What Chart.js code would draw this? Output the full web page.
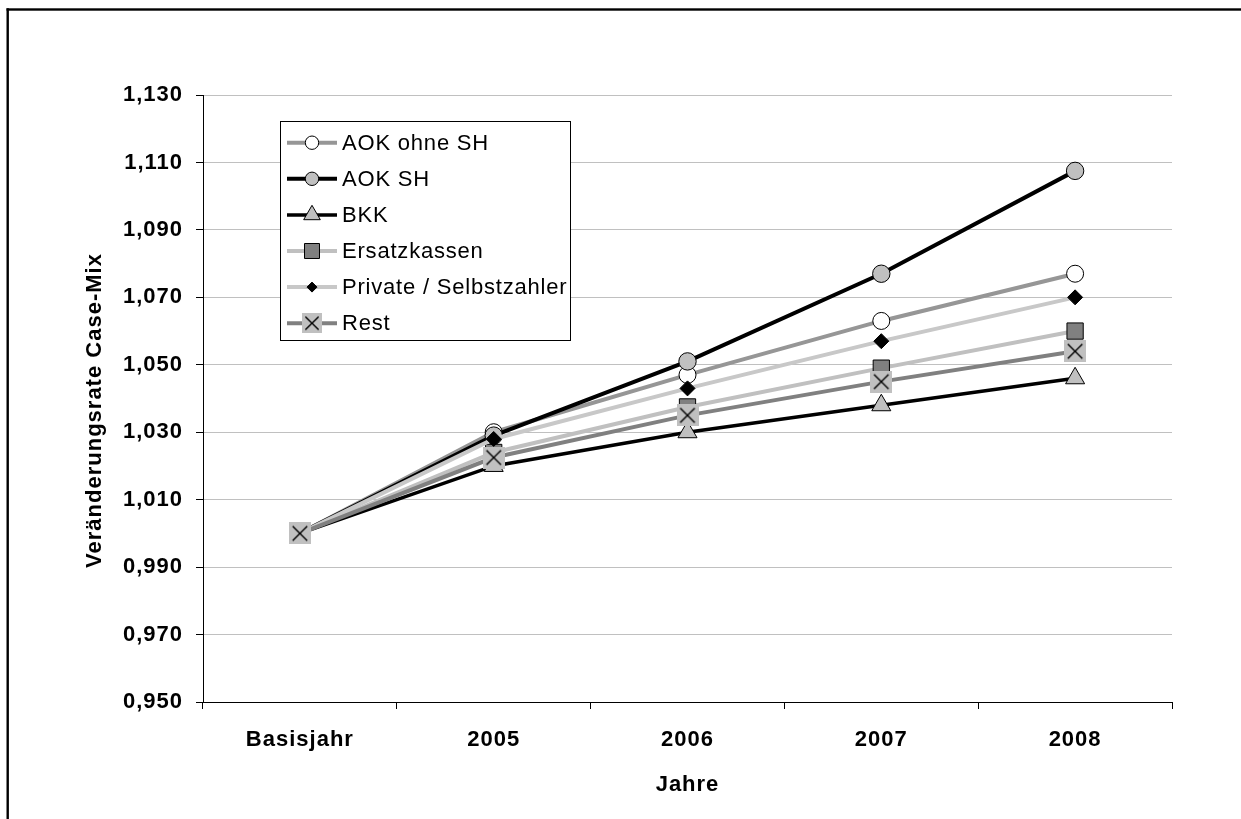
<!DOCTYPE html>
<html>
<head>
<meta charset="utf-8">
<script src="https://cdn.jsdelivr.net/npm/chart.js@4/dist/chart.umd.min.js"></script>
<style>
html,body{margin:0;padding:0;background:#fff;overflow:hidden}
canvas{display:block}
</style>
</head>
<body>
<canvas id="c" width="1241" height="819"></canvas>
<script>
// ---- data ----
const categories = ['Basisjahr', '2005', '2006', '2007', '2008'];
const seriesNames = ['AOK ohne SH', 'AOK SH', 'BKK', 'Ersatzkassen', 'Private / Selbstzahler', 'Rest'];
const aokOhneSH     = [1.000, 1.030, 1.047, 1.063, 1.077];
const aokSH         = [1.000, 1.029, 1.051, 1.077, 1.1075];
const bkk           = [1.000, 1.020, 1.030, 1.038, 1.046];
const ersatzkassen  = [1.000, 1.024, 1.0375, 1.049, 1.060];
const privateSelbst = [1.000, 1.028, 1.043, 1.057, 1.070];
const rest          = [1.000, 1.0225, 1.035, 1.045, 1.054];
const yTickValues = [0.95, 0.97, 0.99, 1.01, 1.03, 1.05, 1.07, 1.09, 1.11, 1.13];
const yTickLabels = ['0,950', '0,970', '0,990', '1,010', '1,030', '1,050', '1,070', '1,090', '1,110', '1,130'];
const xTitle = 'Jahre';
const yTitle = 'Veränderungsrate Case-Mix';

// ---- styling ----
const FONT = "'Liberation Sans', Arial, Helvetica, sans-serif";

function makeRestMarker(size) {
  const c = document.createElement('canvas');
  c.width = size; c.height = size;
  const g = c.getContext('2d');
  g.fillStyle = '#c0c0c0';
  g.fillRect(0, 0, size, size);
  g.strokeStyle = '#000';
  g.lineWidth = 1.4;
  const p = size * 0.17;
  g.beginPath();
  g.moveTo(p, p); g.lineTo(size - p, size - p);
  g.moveTo(size - p, p); g.lineTo(p, size - p);
  g.stroke();
  return c;
}
const restMarker = makeRestMarker(22);
const restMarkerLegend = makeRestMarker(20);

const seriesData = [aokOhneSH, aokSH, bkk, ersatzkassen, privateSelbst, rest];
const lineColors = ['#969696', '#000000', '#000000', '#c0c0c0', '#c8c8c8', '#808080'];
const lineWidths = [4, 4, 3.5, 4, 4, 4];
const pointStyles = ['circle', 'circle', 'triangle', 'rect', 'rectRot', restMarker];
const pointRadii = [8.5, 8.7, 11, 11.5, 7.5, 11];
const pointFills = ['#ffffff', '#c0c0c0', '#c0c0c0', '#808080', '#000000', '#c0c0c0'];
const legendRadii = [6.7, 6.7, 9.6, 10.6, 5, 10];

const datasets = seriesNames.map((name, i) => ({
  label: name,
  data: seriesData[i],
  borderColor: lineColors[i],
  borderWidth: lineWidths[i],
  pointStyle: pointStyles[i],
  pointRadius: pointRadii[i],
  pointHoverRadius: pointRadii[i],
  pointBackgroundColor: pointFills[i],
  pointBorderColor: '#000',
  pointBorderWidth: 1,
  fill: false,
  tension: 0,
  order: seriesNames.length - 1 - i
}));

function drawMarker(ctx, style, r, x, y, fill) {
  ctx.save();
  ctx.fillStyle = fill;
  ctx.strokeStyle = '#000';
  ctx.lineWidth = 1;
  if (typeof style === 'object') {
    ctx.drawImage(style, x - style.width / 2, y - style.height / 2);
    ctx.restore();
    return;
  }
  ctx.beginPath();
  if (style === 'circle') {
    ctx.arc(x, y, r, 0, Math.PI * 2);
  } else if (style === 'triangle') {
    ctx.moveTo(x, y - r);
    ctx.lineTo(x + r * Math.sin(2 * Math.PI / 3), y - r * Math.cos(2 * Math.PI / 3));
    ctx.lineTo(x + r * Math.sin(4 * Math.PI / 3), y - r * Math.cos(4 * Math.PI / 3));
  } else if (style === 'rect') {
    const s = r * Math.SQRT1_2;
    ctx.rect(x - s, y - s, 2 * s, 2 * s);
  } else if (style === 'rectRot') {
    ctx.moveTo(x - r, y); ctx.lineTo(x, y - r); ctx.lineTo(x + r, y); ctx.lineTo(x, y + r);
  }
  ctx.closePath();
  ctx.fill();
  ctx.stroke();
  ctx.restore();
}

const framePlugin = {
  id: 'frame',
  beforeLayout(chart) { chart.ctx.letterSpacing = '1px'; },
  beforeDraw(chart) {
    const ctx = chart.ctx;
    ctx.letterSpacing = '1px';
    ctx.save();
    ctx.fillStyle = '#000';
    ctx.fillRect(6.5, 8.3, chart.width, 2.4);
    ctx.fillRect(6.5, 8.3, 2.4, chart.height);
    ctx.restore();
  },
  afterDraw(chart) {
    // y-axis title, centred slightly below the plot centre as in the original
    const ctx = chart.ctx;
    const area = chart.chartArea;
    ctx.save();
    ctx.translate(95, (area.top + area.bottom) / 2 + 12);
    ctx.rotate(-Math.PI / 2);
    ctx.fillStyle = '#000';
    ctx.font = 'bold 22px ' + FONT;
    ctx.letterSpacing = '1px';
    ctx.textAlign = 'center';
    ctx.textBaseline = 'middle';
    ctx.fillText(yTitle, 0, 0);
    ctx.restore();
  }
};

const boxLegendPlugin = {
  id: 'boxLegend',
  afterDatasetsDraw(chart) {
    const ctx = chart.ctx;
    const area = chart.chartArea;
    const bx = area.left + 77.5, by = area.top + 26.5;
    const bw = 290, bh = 219;
    ctx.save();
    ctx.fillStyle = '#fff';
    ctx.fillRect(bx, by, bw, bh);
    ctx.strokeStyle = '#000';
    ctx.lineWidth = 1;
    ctx.strokeRect(bx, by, bw, bh);
    const rowStart = by + 21.2, rowStep = 36.1;
    chart.data.datasets.forEach((ds, i) => {
      const y = rowStart + i * rowStep;
      const x0 = bx + 6.5, x1 = x0 + 50;
      ctx.strokeStyle = ds.borderColor;
      ctx.lineWidth = ds.borderWidth;
      ctx.beginPath();
      ctx.moveTo(x0, y); ctx.lineTo(x1, y);
      ctx.stroke();
      const st = (typeof ds.pointStyle === 'object') ? restMarkerLegend : ds.pointStyle;
      drawMarker(ctx, st, legendRadii[i], (x0 + x1) / 2, y, ds.pointBackgroundColor);
      ctx.fillStyle = '#000';
      ctx.font = '22px ' + FONT;
      ctx.letterSpacing = '0.8px';
      ctx.textAlign = 'left';
      ctx.textBaseline = 'middle';
      ctx.fillText(ds.label, x1 + 5, y + 1);
    });
    ctx.restore();
  }
};

new Chart(document.getElementById('c'), {
  type: 'line',
  data: { labels: categories, datasets: datasets },
  options: {
    responsive: false,
    animation: false,
    devicePixelRatio: 1,
    layout: { padding: { top: 95, right: 69, left: 0, bottom: 0 } },
    plugins: { legend: { display: false }, tooltip: { enabled: false } },
    scales: {
      x: {
        type: 'category',
        offset: true,
        grid: { display: true, drawOnChartArea: false, drawTicks: true, tickLength: 7, tickColor: '#000', color: '#000', offset: true },
        border: { display: true, color: '#000', width: 1 },
        ticks: { color: '#000', font: { family: FONT, size: 22, weight: 'bold' }, padding: 18, maxRotation: 0, autoSkip: false },
        title: { display: true, text: xTitle, color: '#000', font: { family: FONT, size: 22, weight: 'bold' }, padding: { top: 0, bottom: 21 } },
        afterFit(s) { s.height = 117; }
      },
      y: {
        min: 0.95,
        max: 1.13,
        afterBuildTicks(s) { s.ticks = yTickValues.map(v => ({ value: v })); },
        grid: { color: '#c0c0c0', tickColor: '#000', tickLength: 7, lineWidth: 1 },
        border: { display: true, color: '#000', width: 1 },
        ticks: { color: '#000', font: { family: FONT, size: 22, weight: 'bold' }, padding: 13, callback: (v, i) => yTickLabels[i] },
        title: { display: false, text: yTitle },
        afterFit(s) { s.width = 203; }
      }
    }
  },
  plugins: [framePlugin, boxLegendPlugin]
});
</script>
</body>
</html>
